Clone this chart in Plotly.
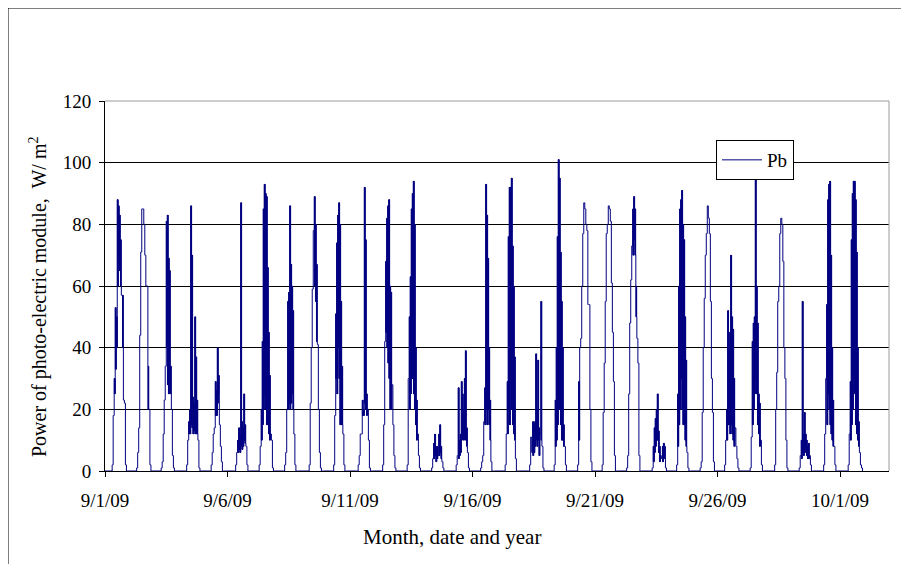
import plotly.graph_objects as go
import pandas as pd

# ---------------- data ----------------
start_date = "2009-09-01"
hours = list(range(7, 22))  # hourly readings 07:00 .. 21:00 each day

# upper envelope of Pb (W/m2) for each day, hours 7..21
hourly_high = [
    [2, 18, 30, 53, 50, 88, 86, 83, 75, 57, 57, 23, 22, 2, 0],     # 9/1
    [1, 6, 14, 44, 71, 85, 85, 80, 70, 60, 60, 34, 20, 2, 0],      # 9/2
    [1, 3, 12, 23, 34, 81, 83, 69, 65, 34, 20, 5, 1, 0, 0],        # 9/3
    [0, 2, 10, 16, 20, 86, 70, 24, 22, 50, 37, 23, 10, 1, 0],      # 9/4
    [0, 2, 6, 12, 14, 29, 26, 40, 31, 15, 8, 3, 0, 0, 0],          # 9/5
    [0, 2, 6, 10, 14, 12, 87, 16, 14, 25, 15, 8, 2, 0, 0],         # 9/6
    [2, 8, 20, 42, 85, 93, 90, 89, 66, 45, 31, 12, 10, 1, 0],      # 9/7
    [0, 2, 6, 20, 55, 58, 86, 67, 60, 52, 12, 2, 0, 0, 0],         # 9/8
    [0, 2, 22, 40, 59, 78, 89, 80, 67, 41, 20, 6, 1, 0, 0],        # 9/9
    [0, 2, 18, 51, 74, 83, 87, 80, 55, 34, 12, 2, 0, 0, 0],        # 9/10
    [0, 2, 5, 12, 12, 23, 20, 92, 75, 25, 20, 10, 1, 0, 0],        # 9/11
    [0, 2, 15, 42, 68, 82, 86, 88, 60, 58, 28, 15, 5, 1, 0],       # 9/12
    [0, 2, 30, 50, 63, 85, 90, 94, 80, 40, 23, 12, 5, 1, 0],       # 9/13
    [0, 1, 4, 9, 12, 7, 8, 5, 12, 15, 8, 3, 1, 0, 0],              # 9/14
    [0, 2, 5, 27, 10, 12, 29, 25, 20, 30, 39, 14, 6, 1, 0],        # 9/15
    [0, 1, 3, 5, 16, 27, 93, 83, 69, 40, 23, 3, 0, 0, 0],          # 9/16
    [0, 2, 12, 29, 76, 92, 92, 95, 73, 60, 37, 4, 0, 0, 0],        # 9/17
    [0, 2, 11, 6, 16, 14, 16, 38, 20, 36, 14, 12, 55, 8, 1],       # 9/18
    [0, 2, 23, 40, 76, 101, 95, 71, 55, 40, 15, 8, 2, 0, 0],       # 9/19
    [2, 29, 40, 43, 60, 77, 87, 85, 80, 78, 54, 54, 20, 3, 0],     # 9/20
    [2, 19, 35, 55, 77, 80, 86, 85, 81, 61, 45, 29, 5, 0, 0],      # 9/21
    [1, 5, 25, 48, 62, 73, 85, 89, 85, 60, 43, 35, 5, 0, 0],       # 9/22
    [0, 1, 8, 14, 17, 20, 25, 13, 8, 5, 4, 8, 9, 8, 1],            # 9/23
    [0, 2, 25, 60, 85, 88, 91, 80, 75, 50, 36, 6, 1, 0, 0],        # 9/24
    [1, 3, 19, 40, 56, 70, 77, 86, 82, 77, 55, 30, 19, 3, 0],      # 9/25
    [2, 10, 20, 52, 40, 45, 70, 50, 46, 30, 14, 8, 4, 1, 0],       # 9/26
    [0, 1, 11, 42, 48, 50, 96, 60, 48, 25, 22, 10, 2, 0, 0],       # 9/27
    [0, 2, 20, 32, 55, 60, 77, 82, 80, 68, 40, 30, 10, 1, 0],      # 9/28
    [0, 1, 5, 10, 55, 12, 19, 12, 10, 8, 9, 5, 2, 0, 0],           # 9/29
    [0, 2, 12, 30, 54, 88, 93, 94, 70, 40, 23, 8, 2, 0, 0],        # 9/30
    [0, 2, 12, 29, 75, 90, 94, 94, 88, 71, 40, 16, 6, 2, 1],       # 10/1
]

# lower envelope of the fast fluctuations inside each hour
hourly_low = [
    [2, 18, 25, 33, 40, 60, 70, 65, 60, 57, 40, 23, 22, 2, 0],
    [1, 6, 14, 44, 71, 85, 85, 80, 70, 60, 60, 20, 20, 2, 0],
    [1, 3, 12, 23, 34, 40, 28, 25, 30, 25, 20, 5, 1, 0, 0],
    [0, 2, 10, 12, 12, 15, 14, 12, 13, 12, 12, 12, 10, 1, 0],
    [0, 2, 6, 12, 14, 18, 18, 22, 25, 15, 8, 3, 0, 0, 0],
    [0, 2, 6, 6, 7, 6, 8, 7, 8, 10, 9, 8, 2, 0, 0],
    [2, 8, 10, 15, 20, 25, 20, 15, 15, 12, 10, 12, 10, 1, 0],
    [0, 2, 6, 20, 20, 22, 20, 22, 25, 20, 12, 2, 0, 0, 0],
    [0, 2, 22, 40, 59, 78, 60, 55, 42, 41, 20, 6, 1, 0, 0],
    [0, 2, 18, 30, 25, 40, 30, 15, 15, 15, 12, 2, 0, 0, 0],
    [0, 2, 5, 12, 12, 18, 18, 22, 20, 18, 20, 10, 1, 0, 0],
    [0, 2, 15, 42, 45, 40, 35, 30, 20, 20, 28, 15, 5, 1, 0],
    [0, 2, 30, 20, 25, 30, 30, 25, 20, 15, 10, 12, 5, 1, 0],
    [0, 1, 4, 4, 5, 3, 4, 5, 5, 6, 4, 3, 1, 0, 0],
    [0, 2, 5, 4, 5, 6, 10, 12, 10, 12, 10, 8, 6, 1, 0],
    [0, 1, 3, 5, 16, 15, 20, 15, 20, 15, 10, 3, 0, 0, 0],
    [0, 2, 12, 12, 20, 15, 30, 20, 15, 12, 10, 4, 0, 0, 0],
    [0, 2, 11, 6, 5, 6, 8, 10, 8, 10, 5, 12, 10, 8, 1],
    [0, 2, 8, 10, 15, 20, 20, 15, 10, 10, 8, 8, 2, 0, 0],
    [2, 10, 40, 43, 60, 77, 87, 85, 80, 78, 54, 54, 20, 3, 0],
    [2, 19, 35, 55, 77, 80, 86, 85, 81, 61, 45, 29, 5, 0, 0],
    [1, 5, 25, 48, 62, 73, 70, 75, 70, 50, 43, 35, 5, 0, 0],
    [0, 1, 3, 6, 8, 10, 10, 6, 3, 5, 4, 3, 4, 8, 1],
    [0, 2, 8, 15, 20, 30, 20, 15, 15, 10, 8, 6, 1, 0, 0],
    [1, 3, 19, 40, 56, 70, 77, 86, 82, 77, 55, 30, 19, 3, 0],
    [2, 10, 10, 15, 15, 12, 15, 12, 10, 8, 14, 8, 4, 1, 0],
    [0, 1, 11, 15, 20, 25, 30, 25, 15, 12, 8, 10, 2, 0, 0],
    [0, 2, 20, 32, 55, 60, 77, 82, 80, 68, 40, 30, 10, 1, 0],
    [0, 1, 5, 4, 6, 5, 8, 6, 5, 4, 4, 5, 2, 0, 0],
    [0, 2, 12, 30, 15, 25, 20, 15, 12, 10, 8, 8, 2, 0, 0],
    [0, 2, 12, 10, 15, 20, 30, 25, 15, 12, 10, 8, 6, 2, 1],
]

tick_dates = ["2009-09-01", "2009-09-06", "2009-09-11", "2009-09-16",
              "2009-09-21", "2009-09-26", "2009-10-01"]
tick_labels = ["9/1/09", "9/6/09", "9/11/09", "9/16/09", "9/21/09", "9/26/09", "10/1/09"]
y_ticks = [0, 20, 40, 60, 80, 100, 120]

# ---------------- build the time series ----------------
t0 = pd.Timestamp(start_date)
xs, ys = [t0], [0]
for d, (hi_day, lo_day) in enumerate(zip(hourly_high, hourly_low)):
    day = t0 + pd.Timedelta(days=d)
    for h, hi, lo in zip(hours, hi_day, lo_day):
        for k in range(6):  # 10-minute records within the hour
            xs.append(day + pd.Timedelta(hours=h, minutes=10 * k))
            ys.append(hi if k % 2 == 0 else lo)
    xs.append(day + pd.Timedelta(hours=hours[-1] + 1))
    ys.append(0)

fig = go.Figure()
fig.add_trace(go.Scatter(
    x=xs, y=ys, mode="lines", name="Pb",
    line=dict(color="#000080", width=1, shape="hv"),
))

FONT = "Liberation Serif"

# page body has an 8px margin: plot area placed at screen x 105..889, y 101..471
fig.update_layout(
    width=909, height=564,
    margin=dict(l=97, r=28, t=93, b=101),
    paper_bgcolor="white", plot_bgcolor="white",
    font=dict(family=FONT, size=19, color="black"),
    showlegend=True,
    legend=dict(
        x=(716 - 105) / 784, y=(471 - 140) / 370, xanchor="left", yanchor="top",
        bgcolor="white", bordercolor="black", borderwidth=1,
        font=dict(family=FONT, size=19, color="black"),
        itemwidth=40, tracegroupgap=0,
    ),
    xaxis=dict(
        type="date",
        range=["2009-09-01", "2009-10-03"],
        tickmode="array", tickvals=tick_dates, ticktext=tick_labels,
        showgrid=False, zeroline=False,
        showline=True, linecolor="black", linewidth=1,
        ticks="outside", ticklen=5, tickcolor="black",
        ticklabelstandoff=7,
        tickfont=dict(family=FONT, size=19, color="black"),
    ),
    yaxis=dict(
        range=[0, 120],
        tickmode="array", tickvals=y_ticks,
        showgrid=True, gridcolor="black", gridwidth=1,
        zeroline=False,
        showline=True, linecolor="black", linewidth=1,
        ticks="outside", ticklen=5, tickcolor="black",
        ticklabelstandoff=4,
        tickfont=dict(family=FONT, size=19, color="black"),
    ),
    annotations=[
        dict(text="Month, date and year", xref="paper", yref="paper",
             x=(452 - 105) / 784, y=-(537 - 471) / 370,
             xanchor="center", yanchor="middle", showarrow=False,
             font=dict(family=FONT, size=21, color="black")),
        dict(text="Power of photo-electric module,  W/ m<sup>2</sup>",
             xref="paper", yref="paper",
             x=(38 - 105) / 784, y=(471 - 297) / 370,
             xanchor="center", yanchor="middle", textangle=-90, showarrow=False,
             font=dict(family=FONT, size=20, color="black")),
    ],
    shapes=[
        # gray plot-area border (top and right)
        dict(type="line", xref="paper", yref="paper", x0=0, x1=1, y0=1, y1=1,
             line=dict(color="#9a9a9a", width=1), layer="above"),
        dict(type="line", xref="paper", yref="paper", x0=1, x1=1, y0=0, y1=1,
             line=dict(color="#9a9a9a", width=1), layer="above"),
        # outer chart frame
        dict(type="line", xref="paper", yref="paper",
             x0=(8 - 105) / 784, x1=(8 - 105) / 784,
             y0=(471 - 8) / 370, y1=-(575 - 471) / 370,
             line=dict(color="black", width=1)),
        dict(type="line", xref="paper", yref="paper",
             x0=(8 - 105) / 784, x1=(915 - 105) / 784,
             y0=(471 - 8) / 370, y1=(471 - 8) / 370,
             line=dict(color="black", width=1)),
    ],
)

fig.write_html("out.html")
